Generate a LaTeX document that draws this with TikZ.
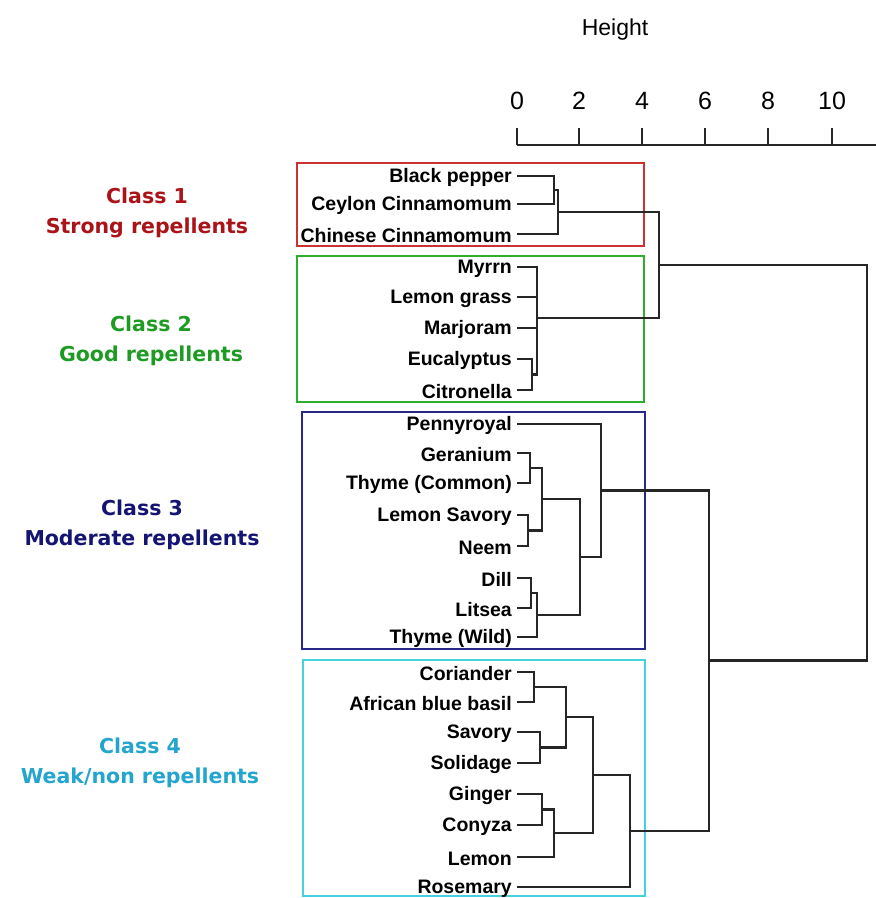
\documentclass[tikz,border=0pt]{standalone}
\usepackage{fontspec}
\setmainfont{Liberation Sans}
\newfontfamily\classfont{DejaVu Sans}
\definecolor{cred}{RGB}{170,20,25}
\definecolor{cgreen}{RGB}{30,155,35}
\definecolor{cblue}{RGB}{20,20,115}
\definecolor{ccyan}{RGB}{35,165,205}
\definecolor{bred}{RGB}{205,50,50}
\definecolor{bgreen}{RGB}{45,175,45}
\definecolor{bblue}{RGB}{40,40,140}
\definecolor{bcyan}{RGB}{70,210,220}
\tikzset{
  leaf/.style={anchor=east, inner sep=0pt, font=\fontsize{19.5}{21}\selectfont\bfseries},
  classlbl/.style={align=center, inner sep=0pt, font=\classfont\fontsize{20.5}{30.5}\selectfont\bfseries},
  branch/.style={draw=black!85, line width=2.6pt, line join=miter},
  classbox/.style={line width=2.2pt},
  axisline/.style={draw=black!85, line width=2.2pt},
  ticklbl/.style={inner sep=0pt, font=\fontsize{25}{28}\selectfont},
}
\begin{document}
\begin{tikzpicture}[x=1pt, y=-1pt]
\useasboundingbox (0,0) rectangle (876,898);
\fill[white] (0,0) rectangle (876,898);

% axis
\node[ticklbl, font=\fontsize{23}{26}\selectfont] (hgt) at (615,30) {Height};
\foreach \v/\x in {0/517,2/579,4/642,6/705,8/768,10/832}{
  \node[ticklbl] (t\v) at (\x,101) {\v};
  \draw[axisline] (\x,128) -- (\x,145);
}
\draw[axisline] (517,145) -- (876,145);

% class boxes
\draw[classbox, bred]   (297,163) rectangle (644,246);
\draw[classbox, bgreen] (297,256) rectangle (644,402);
\draw[classbox, bblue]  (302,412) rectangle (645,649);
\draw[classbox, bcyan]  (303,660) rectangle (645,896);

% class labels
\node[classlbl, text=cred]   (c1) at (147,213) {Class 1\\Strong repellents};
\node[classlbl, text=cgreen] (c2) at (151,341) {Class 2\\Good repellents};
\node[classlbl, text=cblue]  (c3) at (142,525) {Class 3\\Moderate repellents};
\node[classlbl, text=ccyan]  (c4) at (140,763) {Class 4\\Weak/non repellents};

% leaves
\foreach \n/\y/\t in {bp/176/Black pepper, cey/204/Ceylon Cinnamomum, chi/234/Chinese Cinnamomum,
  myr/267/Myrrn, lgr/297/Lemon grass, mar/328/Marjoram, euc/359/Eucalyptus, cit/390/Citronella,
  pen/424/Pennyroyal, ger/453/Geranium, thc/483/Thyme (Common), lsa/515/Lemon Savory, nee/546/Neem,
  dil/578/Dill, lit/608/Litsea, thw/637/Thyme (Wild),
  cor/672/Coriander, abb/702/African blue basil, sav/732/Savory, sol/763/Solidage,
  gin/794/Ginger, con/825/Conyza, lem/857/Lemon, ros/887/Rosemary}{
  \node[leaf] (\n) at (512,\y+1.5) {\t};
  \coordinate (\n e) at (517,\y);
}

% internal nodes
\coordinate (n1) at (554,190);
\coordinate (n2) at (558,212);
\coordinate (n3) at (532,374.5);
\coordinate (n4) at (537,318);
\coordinate (n5) at (659,265);
\coordinate (n6) at (530,468);
\coordinate (n7) at (528,530.5);
\coordinate (n8) at (542,499);
\coordinate (n9) at (531,593);
\coordinate (n10) at (537,615);
\coordinate (n11) at (580,557);
\coordinate (n12) at (601,490.5);
\coordinate (n13) at (534,687);
\coordinate (n14) at (540,747.5);
\coordinate (n15) at (566,717);
\coordinate (n16) at (542,809.5);
\coordinate (n17) at (554,833);
\coordinate (n18) at (593,775);
\coordinate (n19) at (630,831);
\coordinate (n20) at (709,660.75);
\coordinate (root) at (867,463);

% branches
\draw[branch] (bpe) -| (n1) |- (ceye);
\draw[branch] (n1) -| (n2) |- (chie);
\draw[branch] (euce) -| (n3) |- (cite);
\draw[branch] (myre) -| (n4) |- (n3);
\draw[branch] (lgre) -- (lgre -| n4);
\draw[branch] (mare) -- (mare -| n4);
\draw[branch] (n2) -| (n5) |- (n4);

\draw[branch] (gere) -| (n6) |- (thce);
\draw[branch] (lsae) -| (n7) |- (neee);
\draw[branch] (n6) -| (n8) |- (n7);
\draw[branch] (dile) -| (n9) |- (lite);
\draw[branch] (n9) -| (n10) |- (thwe);
\draw[branch] (n8) -| (n11) |- (n10);
\draw[branch] (pene) -| (n12) |- (n11);

\draw[branch] (core) -| (n13) |- (abbe);
\draw[branch] (save) -| (n14) |- (sole);
\draw[branch] (n13) -| (n15) |- (n14);
\draw[branch] (gine) -| (n16) |- (cone);
\draw[branch] (n16) -| (n17) |- (leme);
\draw[branch] (n15) -| (n18) |- (n17);
\draw[branch] (n18) -| (n19) |- (rose);

\draw[branch] (n12) -| (n20) |- (n19);
\draw[branch] (n5) -| (root) |- (n20);
\end{tikzpicture}
\end{document}
